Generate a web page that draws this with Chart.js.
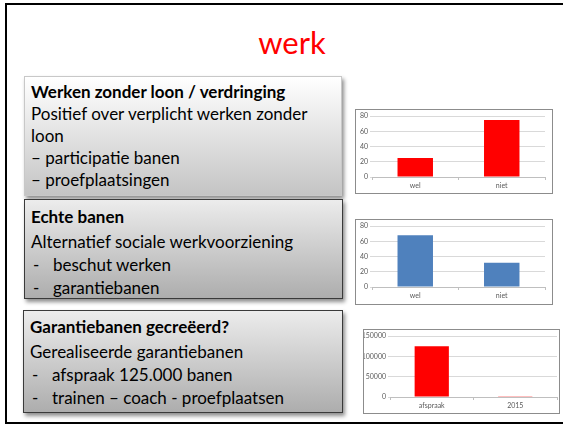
<!DOCTYPE html>
<html>
<head>
<meta charset="utf-8">
<script src="https://cdn.jsdelivr.net/npm/chart.js@4"></script>
<style>
  body { margin: 0; width: 563px; height: 424px; overflow: hidden; background: #fff; font-family: 'Lato', sans-serif; }
  .slide { position: absolute; left: 5px; top: 3px; width: 620px; height: 417px; border-left: 2px solid #000; border-top: 2px solid #000; border-bottom: 2px solid #000; }
  .title { position: absolute; left: 240px; width: 104px; top: 24px; text-align: center; color: #ff0000; font-size: 31px; line-height: 36px; }
  .box { position: absolute; box-sizing: border-box; padding-left: 6px; font-size: 17px; color: #000; box-shadow: 2px 3px 4px rgba(0,0,0,0.45); }
  .box div { height: 22px; line-height: 22px; white-space: nowrap; }
  .box b { font-weight: bold; }
  .dash { display: inline-block; width: 20px; padding-left: 2px; }
  #b1 { left: 24px; top: 76px; width: 318px; height: 120px; padding-top: 4px; border: 1px solid #c8c8c8; background: linear-gradient(#ffffff, #c4c4c4); }
  #b2 { left: 24px; top: 199px; width: 319px; height: 100px; padding-top: 6px; border: 1px solid #3a3a3a; background: linear-gradient(#ececec, #adadad); }
  #b3 { left: 23px; top: 310px; width: 320px; height: 103px; padding-top: 5px; border: 1px solid #3a3a3a; background: linear-gradient(#ececec, #adadad); }
  .frame { position: absolute; border: 1px solid #8c8c8c; background: #fff; }
  .frame canvas { display: block; }
</style>
</head>
<body>
<div class="slide"></div>
<div class="title">werk</div>

<div class="box" id="b1">
  <div><b>Werken zonder loon / verdringing</b></div>
  <div>Positief over verplicht werken zonder</div>
  <div>loon</div>
  <div>– participatie banen</div>
  <div>– proefplaatsingen</div>
</div>
<div class="box" id="b2">
  <div style="height:25px"><b>Echte banen</b></div>
  <div style="height:23px">Alternatief sociale werkvoorziening</div>
  <div style="height:23px"><span class="dash">-</span>beschut werken</div>
  <div><span class="dash">-</span>garantiebanen</div>
</div>
<div class="box" id="b3">
  <div style="height:25px"><b>Garantiebanen gecreëerd?</b></div>
  <div style="height:23px">Gerealiseerde garantiebanen</div>
  <div style="height:23px"><span class="dash">-</span>afspraak 125.000 banen</div>
  <div><span class="dash">-</span>trainen – coach - proefplaatsen</div>
</div>

<div class="frame" style="left:355px; top:109px; width:196px; height:83px;"><canvas id="c1" width="196" height="83"></canvas></div>
<div class="frame" style="left:355px; top:219px; width:196px; height:84px;"><canvas id="c2" width="196" height="84"></canvas></div>
<div class="frame" style="left:363px; top:329px; width:195px; height:83px;"><canvas id="c3" width="195" height="83"></canvas></div>

<script>
// data
const werkLabels = ['wel', 'niet'];
const zonderLoonValues = [25, 75];
const echteBanenValues = [68, 32];
const garantieLabels = ['afspraak', '2015'];
const garantieValues = [125000, 2000];

const RED = '#ff0000';
const BLUE = '#4f81bd';

Chart.defaults.font.family = "'Lato', sans-serif";
Chart.defaults.font.size = 7;
Chart.defaults.color = '#595959';

const makeChart = (id, labels, values, color, max, step, yWidth, pad) => {
    return new Chart(document.getElementById(id), {
        type: 'bar',
        data: {
            labels: labels,
            datasets: [{ data: values, backgroundColor: color, borderWidth: 0, barPercentage: 0.41, categoryPercentage: 1 }]
        },
        options: {
            responsive: false,
            animation: false,
            layout: { padding: pad },
            plugins: { legend: { display: false }, tooltip: { enabled: false } },
            scales: {
                x: {
                    grid: { offset: true, drawOnChartArea: false, tickLength: 3, color: '#bfbfbf' },
                    border: { color: '#bfbfbf' },
                    ticks: { padding: 2 },
                    afterFit: (s) => { s.height = 14; }
                },
                y: {
                    min: 0, max: max,
                    ticks: { stepSize: step, padding: 2, callback: (v) => String(v) },
                    grid: { color: '#d9d9d9', tickLength: 2 },
                    border: { display: false },
                    afterFit: (s) => { s.width = yWidth; }
                }
            }
        }
    });
};

makeChart('c1', werkLabels, zonderLoonValues, RED, 80, 20, 16, { top: 4, right: 7, left: 0, bottom: 2 });
makeChart('c2', werkLabels, echteBanenValues, BLUE, 80, 20, 16, { top: 4, right: 7, left: 0, bottom: 3 });
makeChart('c3', garantieLabels, garantieValues, RED, 150000, 50000, 26, { top: 5, right: 2, left: 0, bottom: 2 });
</script>
</body>
</html>
